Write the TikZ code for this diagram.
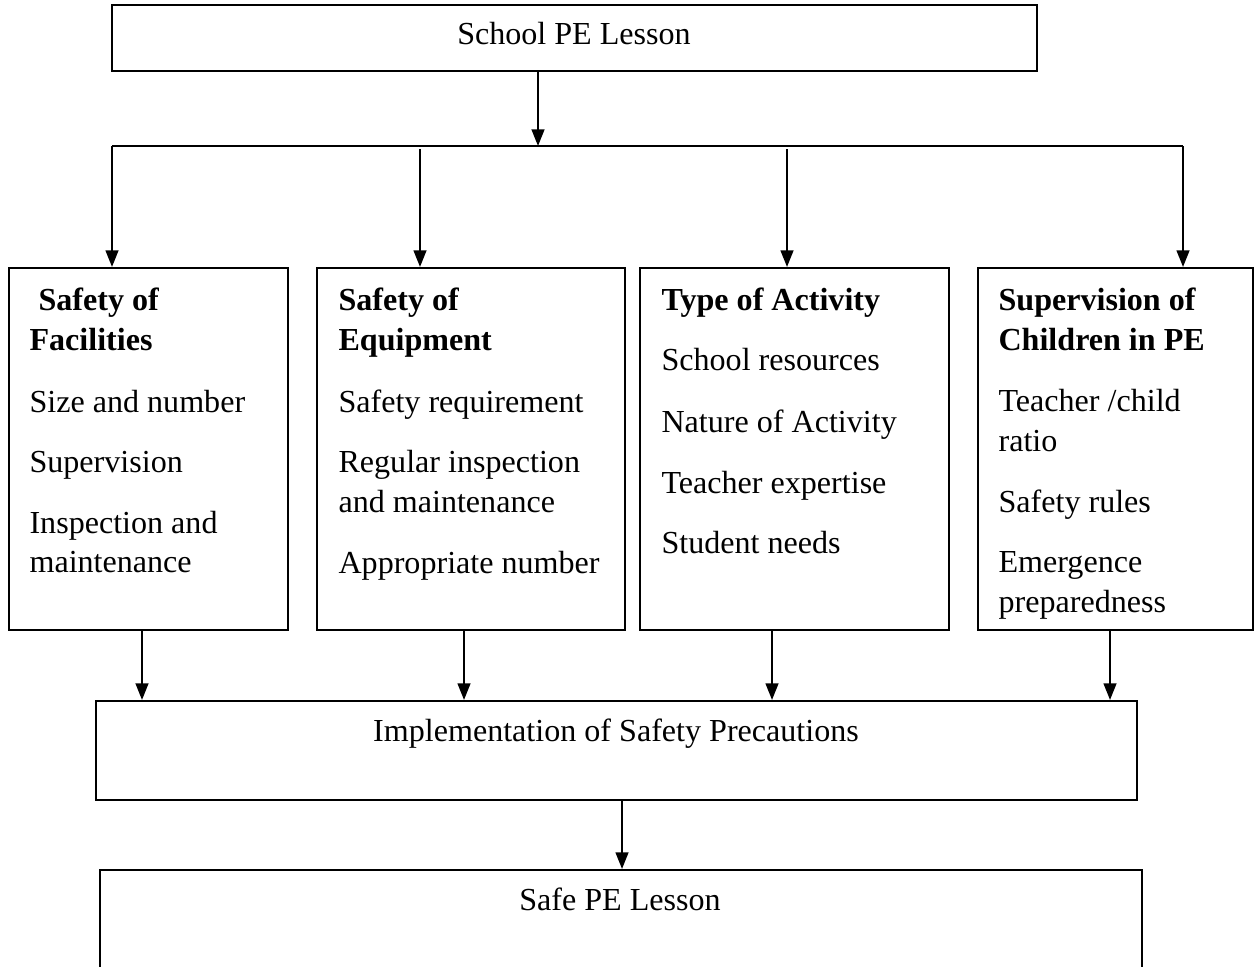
\documentclass[tikz,border=0pt]{standalone}
\usepackage{fontspec}
\setmainfont{Liberation Serif}
\usetikzlibrary{arrows.meta,fit}
\begin{document}
\begin{tikzpicture}[x=0.36pt,y=-0.36pt,
  box/.style={draw,line width=0.75pt,inner sep=0pt},
  arr/.style={line width=0.75pt,-{Triangle[length=6pt,width=4.6pt]}},
  ln/.style={line width=0.75pt},
  txt/.style={anchor=base west,inner sep=0pt,font=\fontsize{11.55}{14}\selectfont},
  hd/.style={txt,font=\fontsize{11.55}{14}\selectfont\bfseries},
  ctxt/.style={anchor=base,inner sep=0pt,font=\fontsize{11.55}{14}\selectfont}]
\useasboundingbox (0,0) rectangle (1254,966);
\clip (0,0) rectangle (1254,966);
% boxes
\node[box,fit={(112,5) (1037,71)}] (top) {};
\node[box,fit={(9,268) (288,630)}] (b1) {};
\node[box,fit={(317,268) (625,630)}] (b2) {};
\node[box,fit={(640,268) (949,630)}] (b3) {};
\node[box,fit={(978,268) (1253,630)}] (b4) {};
\node[box,fit={(96,701) (1137,800)}] (impl) {};
\node[box,fit={(100,870) (1142,1000)}] (safe) {};
% texts
\node[ctxt] (ttop) at (574,45) {School PE Lesson};
\node[ctxt] (timpl) at (616,741) {Implementation of Safety Precautions};
\node[ctxt] (tsafe) at (620,910) {Safe PE Lesson};
% box 1
\node[hd] (a1) at (38,310) {Safety of};
\node[hd] (a2) at (29,350) {Facilities};
\node[txt] (a3) at (29,412) {Size and number};
\node[txt] (a4) at (29,472) {Supervision};
\node[txt] (a5) at (29,533) {Inspection and};
\node[txt] (a6) at (29,572) {maintenance};
% box 2
\node[hd] (e1) at (338,310) {Safety of};
\node[hd] (e2) at (338,350) {Equipment};
\node[txt] (e3) at (338,412) {Safety requirement};
\node[txt] (e4) at (338,472) {Regular inspection};
\node[txt] (e5) at (338,512) {and maintenance};
\node[txt] (e6) at (338,573) {Appropriate number};
% box 3
\node[hd] (c1) at (661,310) {Type of Activity};
\node[txt] (c2) at (661,370) {School resources};
\node[txt] (c3) at (661,432) {Nature of Activity};
\node[txt] (c4) at (661,493) {Teacher expertise};
\node[txt] (c5) at (661,553) {Student needs};
% box 4
\node[hd] (s1) at (998,310) {Supervision of};
\node[hd] (s2) at (998,350) {Children in PE};
\node[txt] (s3) at (998,411) {Teacher /child};
\node[txt] (s4) at (998,451) {ratio};
\node[txt] (s5) at (998,512) {Safety rules};
\node[txt] (s6) at (998,572) {Emergence};
\node[txt] (s7) at (998,612) {preparedness};
% connectors
\coordinate (j) at (538,146);
\coordinate (bl) at (112,146);
\coordinate (br) at (1183,146);
\coordinate (k2) at (420,149);
\coordinate (k3) at (787,149);
\draw[arr] (top.south -| j) -- (j);
\draw[ln] (bl) -- (br);
\draw[arr] (bl) -- (b1.north -| bl);
\draw[arr] (k2) -- (b2.north -| k2);
\draw[arr] (k3) -- (b3.north -| k3);
\draw[arr] (br) -- (b4.north -| br);
\coordinate (x1) at (142,0);
\coordinate (x2) at (464,0);
\coordinate (x3) at (772,0);
\coordinate (x4) at (1110,0);
\coordinate (x5) at (622,0);
\draw[arr] (b1.south -| x1) -- (impl.north -| x1);
\draw[arr] (b2.south -| x2) -- (impl.north -| x2);
\draw[arr] (b3.south -| x3) -- (impl.north -| x3);
\draw[arr] (b4.south -| x4) -- (impl.north -| x4);
\draw[arr] (impl.south -| x5) -- (safe.north -| x5);
\end{tikzpicture}
\end{document}
